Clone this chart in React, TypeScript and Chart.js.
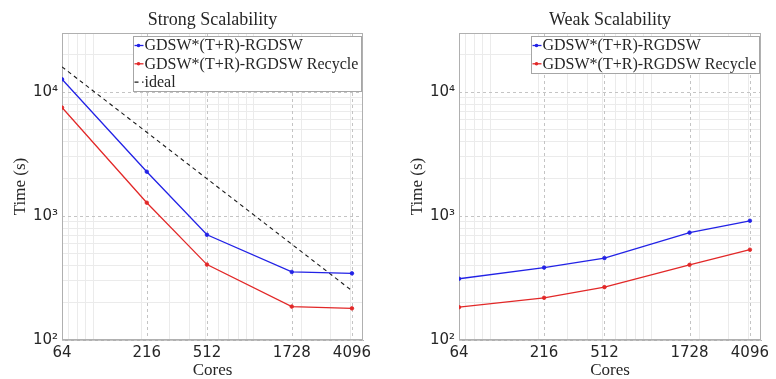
import React, { useEffect, useRef } from 'react';
import { Chart, registerables } from 'chart.js';
Chart.register(...registerables);

// ---- data ----
const cores = [64, 216, 512, 1728, 4096];
const xTickValues = [64, 216, 512, 1728, 4096];
const xMinorValues = [70, 80, 90, 100, 200, 300, 400, 500, 600, 700, 800, 900, 1000, 2000, 3000, 4000];
const yMajorValues = [100, 1000, 10000];
const yTickLabels = ['10²', '10³', '10⁴'];
const yMinorValues = [200, 300, 400, 500, 600, 700, 800, 900, 2000, 3000, 4000, 5000, 6000, 7000, 8000, 9000, 20000, 30000];

const strongBase = [12700, 2280, 706, 354, 345];
const strongRecycle = [7510, 1282, 406, 186, 180];
const strongIdeal = [16000, 4741, 2000, 593, 250];
const weakBase = [312, 384, 458, 735, 916];
const weakRecycle = [184, 219, 267, 404, 535];

const labelBase = 'GDSW*(T+R)-RGDSW';
const labelRecycle = 'GDSW*(T+R)-RGDSW Recycle';
const labelIdeal = 'ideal';

const BLUE = '#2222e6';
const RED = '#e22828';
const TEXT = '#262626';
const SERIF = '"Liberation Serif", "DejaVu Serif", serif';
const SANS = '"DejaVu Sans", sans-serif';

const decorPlugin = {
  id: 'decor',
  beforeDatasetsDraw(chart: any) {
    const { ctx, chartArea: a, scales } = chart;
    ctx.save();
    ctx.strokeStyle = '#c4c4c4';
    ctx.lineWidth = 1;
    ctx.setLineDash([3, 3]);
    for (const v of xTickValues) {
      const x = Math.round(scales.x.getPixelForValue(v)) + 0.5;
      ctx.beginPath();
      ctx.moveTo(x, a.top);
      ctx.lineTo(x, a.bottom);
      ctx.stroke();
    }
    for (const v of yMajorValues) {
      const y = Math.round(scales.y.getPixelForValue(v)) + 0.5;
      ctx.beginPath();
      ctx.moveTo(a.left, y);
      ctx.lineTo(a.right, y);
      ctx.stroke();
    }
    ctx.setLineDash([]);
    ctx.strokeStyle = '#b0b0b0';
    ctx.strokeRect(Math.round(a.left) + 0.5, Math.round(a.top) + 0.5, Math.round(a.width) - 1, Math.round(a.height) - 1);
    ctx.restore();
  },
  afterDraw(chart: any) {
    const { ctx, chartArea: a } = chart;
    const ds = chart.data.datasets;
    ctx.save();
    ctx.font = `16px ${SERIF}`;
    let tw = 0;
    for (const d of ds) tw = Math.max(tw, ctx.measureText(d.label).width);
    const rowH = 18.3;
    const w = Math.round(11 + tw + 3);
    const h = Math.round(ds.length * rowH + 0.5);
    const x0 = Math.round(a.right - 2 - w) + 0.5;
    const y0 = Math.round(a.top + 3) + 0.5;
    ctx.fillStyle = '#ffffff';
    ctx.fillRect(x0, y0, w, h);
    ctx.strokeStyle = '#a6a6a6';
    ctx.lineWidth = 1;
    ctx.strokeRect(x0, y0, w, h);
    ds.forEach((d: any, i: number) => {
      const cy = y0 + 9 + i * rowH;
      ctx.strokeStyle = d.borderColor;
      ctx.lineWidth = d.borderWidth;
      ctx.setLineDash(d.borderDash || []);
      ctx.beginPath();
      ctx.moveTo(x0 + 1, cy);
      ctx.lineTo(x0 + 10, cy);
      ctx.stroke();
      ctx.setLineDash([]);
      if (d.pointRadius > 0) {
        ctx.fillStyle = d.borderColor;
        ctx.beginPath();
        ctx.arc(x0 + 5, cy, 1.8, 0, Math.PI * 2);
        ctx.fill();
      }
      ctx.fillStyle = TEXT;
      ctx.textBaseline = 'middle';
      ctx.textAlign = 'left';
      ctx.fillText(d.label, x0 + 11, cy + 0.5);
    });
    ctx.restore();
  },
};

function series(label: string, values: number[], color: string, dashed = false) {
  return {
    label,
    data: cores.map((c, i) => ({ x: c, y: values[i] })),
    borderColor: color,
    backgroundColor: color,
    borderWidth: dashed ? 1.1 : 1.3,
    borderDash: dashed ? [4, 3.5] : [],
    pointRadius: dashed ? 0 : 1.8,
    pointBorderWidth: 0.8,
    pointBackgroundColor: color,
    pointBorderColor: color,
    tension: 0,
  };
}

function makeConfig(title: string, datasets: any[], padLeft: number, padRight: number) {
  return {
    type: 'line',
    data: { datasets },
    plugins: [decorPlugin],
    options: {
      animation: false,
      responsive: false,
      layout: { padding: { left: padLeft, right: padRight, top: 0, bottom: 0 } },
      plugins: {
        legend: { display: false },
        tooltip: { enabled: false },
        title: {
          display: true,
          text: title,
          fullSize: false,
          color: TEXT,
          font: { family: SERIF, size: 18, weight: 'normal', lineHeight: 1.2 },
          padding: { top: 9, bottom: 2.4 },
        },
      },
      scales: {
        x: {
          type: 'logarithmic',
          min: 64,
          max: 4800,
          afterBuildTicks: (s: any) => {
            s.ticks = [...xTickValues, ...xMinorValues].sort((p, q) => p - q).map((v) => ({ value: v }));
          },
          afterFit: (s: any) => {
            s.height = 39;
          },
          ticks: {
            autoSkip: false,
            maxRotation: 0,
            padding: 4,
            color: TEXT,
            font: { family: SANS, size: 15 },
            callback: (v: number) => (xTickValues.includes(v) ? String(v) : ''),
          },
          grid: {
            drawTicks: false,
            color: (c: any) => (c.tick && xTickValues.includes(c.tick.value) ? 'rgba(0,0,0,0)' : '#ebebeb'),
          },
          border: { color: '#b0b0b0' },
          title: {
            display: true,
            text: 'Cores',
            color: TEXT,
            font: { family: SERIF, size: 17, lineHeight: 1 },
            padding: { top: 0, bottom: 0 },
          },
        },
        y: {
          type: 'logarithmic',
          min: 100,
          max: 30000,
          afterBuildTicks: (s: any) => {
            s.ticks = [...yMajorValues, ...yMinorValues].sort((p, q) => p - q).map((v) => ({ value: v }));
          },
          afterFit: (s: any) => {
            s.width = 56;
          },
          ticks: {
            autoSkip: false,
            padding: 4,
            color: TEXT,
            font: { family: SANS, size: 15 },
            callback: (v: number) => {
              const i = yMajorValues.indexOf(v);
              return i >= 0 ? yTickLabels[i] : '';
            },
          },
          grid: {
            drawTicks: false,
            color: (c: any) => (c.tick && yMajorValues.includes(c.tick.value) ? 'rgba(0,0,0,0)' : '#ebebeb'),
          },
          border: { color: '#b0b0b0' },
          title: {
            display: true,
            text: 'Time (s)',
            color: TEXT,
            font: { family: SERIF, size: 17, lineHeight: 1.2 },
            padding: { top: 4, bottom: 0 },
          },
        },
      },
    },
  };
}

function ChartCanvas({ config }: { config: any }) {
  const ref = useRef<HTMLCanvasElement | null>(null);
  useEffect(() => {
    if (!ref.current) return;
    const chart = new Chart(ref.current, config);
    return () => chart.destroy();
  }, [config]);
  return <canvas ref={ref} width={388} height={379} style={{ display: 'block', width: 388, height: 379 }} />;
}

const strongConfig = makeConfig(
  'Strong Scalability',
  [series(labelBase, strongBase, BLUE), series(labelRecycle, strongRecycle, RED), series(labelIdeal, strongIdeal, '#1a1a1a', true)],
  6,
  25
);
const weakConfig = makeConfig(
  'Weak Scalability',
  [series(labelBase, weakBase, BLUE), series(labelRecycle, weakRecycle, RED)],
  15,
  15
);

export default function App() {
  return (
    <div style={{ position: 'fixed', left: 0, top: 0, width: 776, height: 379, display: 'flex', background: '#fff' }}>
      <ChartCanvas config={strongConfig} />
      <ChartCanvas config={weakConfig} />
    </div>
  );
}
